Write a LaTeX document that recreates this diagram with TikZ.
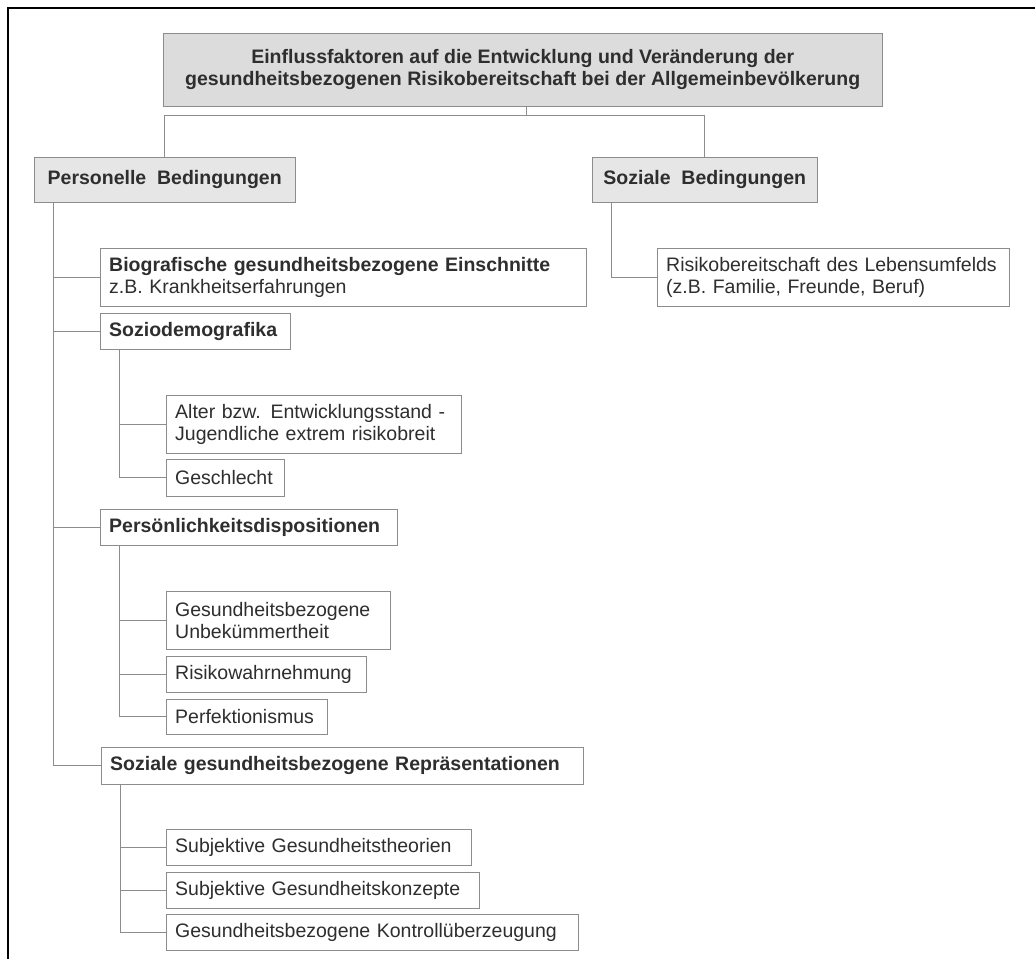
\documentclass[tikz,border=0pt]{standalone}
\usepackage{fontspec}
\setmainfont{Liberation Sans}
\usetikzlibrary{positioning, calc}
\definecolor{linegray}{HTML}{8C8C8C}
\definecolor{textgray}{HTML}{2E2E2E}
\definecolor{headgray}{HTML}{DCDCDC}
\definecolor{subgray}{HTML}{E6E6E6}

\begin{document}
\begin{tikzpicture}[
    x=1pt, y=-1pt,
    font=\fontsize{19.5}{22}\selectfont,
    item/.style={draw=linegray, fill=white, anchor=north west, align=left,
                 inner xsep=9pt, inner ysep=0pt, text=textgray},
    head/.style={item, fill=subgray, align=center,
                 font=\fontsize{19.5}{22}\selectfont\bfseries},
    link/.style={draw=linegray, line width=0.9pt},
]
\useasboundingbox (0,0) rectangle (1035,959);
\draw[line width=2pt] (1035,8) -- (8,8) -- (8,959);

\node[head, fill=headgray, minimum width=719pt, minimum height=73pt] (title) at (163,33)
    {Einflussfaktoren auf die Entwicklung und Veränderung der\\
     gesundheitsbezogenen Risikobereitschaft bei der Allgemeinbevölkerung};
\node[head, minimum width=261pt, minimum height=45pt] (pers) at (34,157) {Personelle~ Bedingungen};
\node[head, minimum width=225pt, minimum height=45pt] (soz) at (592,157) {Soziale~ Bedingungen};

\node[item, text width=334pt, minimum height=58pt] (umfeld) at (657,248)
    {Risikobereitschaft des Lebensumfelds\\(z.B. Familie, Freunde, Beruf)};

\node[item, text width=468pt, minimum height=58pt] (bio) at (100,248)
    {\textbf{Biografische gesundheitsbezogene Einschnitte}\\z.B. Krankheitserfahrungen};
\node[item, text width=172pt, minimum height=36pt] (sozio) at (100,313) {\textbf{Soziodemografika}};
\node[item, text width=277pt, minimum height=58pt] (alter) at (166,395)
    {Alter bzw. Entwicklungsstand -\\Jugendliche extrem risikobreit};
\node[item, text width=100pt, minimum height=37pt] (geschl) at (166,459) {Geschlecht};

\node[item, text width=279pt, minimum height=36pt] (dispo) at (100,509) {\textbf{Persönlichkeitsdispositionen}};
\node[item, text width=206pt, minimum height=58pt] (unbek) at (166,591)
    {Gesundheitsbezogene\\Unbekümmertheit};
\node[item, text width=182pt, minimum height=36pt] (wahrn) at (166,656) {Risikowahrnehmung};
\node[item, text width=143pt, minimum height=35pt] (perf) at (166,699) {Perfektionismus};

\node[item, text width=464pt, minimum height=37pt] (repr) at (101,747)
    {\textbf{Soziale gesundheitsbezogene Repräsentationen}};
\node[item, text width=287pt, minimum height=36pt] (theor) at (166,829) {Subjektive Gesundheitstheorien};
\node[item, text width=295pt, minimum height=36pt] (konz) at (166,872) {Subjektive Gesundheitskonzepte};
\node[item, text width=394pt, minimum height=36pt] (kontr) at (166,914) {Gesundheitsbezogene Kontrollüberzeugung};

\draw[link] ([xshift=4pt]title.south) -- ++(0,9) coordinate (fork);
\draw[link] (pers.north) |- (fork) -| (soz.north);
\draw[link] ([xshift=19pt]soz.south west) |- (umfeld.west);
\foreach \c in {bio, sozio, dispo, repr}
    \draw[link] ([xshift=19pt]pers.south west) |- (\c.west);
\foreach \c in {alter, geschl}
    \draw[link] ([xshift=19pt]sozio.south west) |- (\c.west);
\foreach \c in {unbek, wahrn, perf}
    \draw[link] ([xshift=19pt]dispo.south west) |- (\c.west);
\foreach \c in {theor, konz, kontr}
    \draw[link] ([xshift=19pt]repr.south west) |- (\c.west);

\end{tikzpicture}
\end{document}
